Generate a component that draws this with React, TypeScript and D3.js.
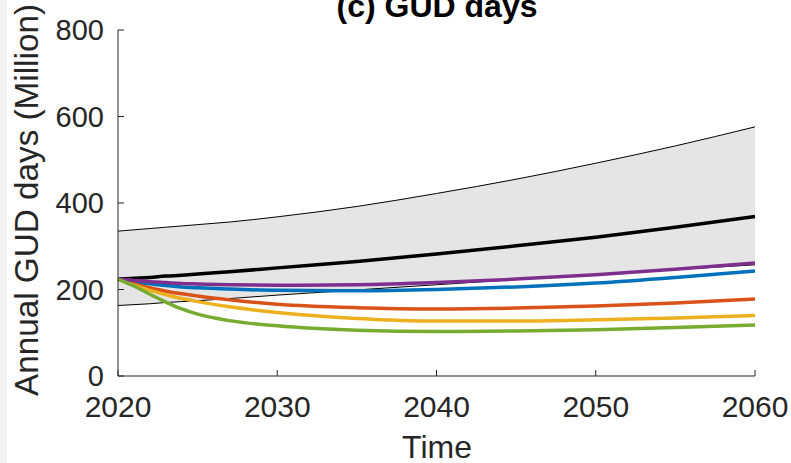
import React from "react";
import * as d3 from "d3";

const years = [2020, 2021, 2022, 2023, 2024, 2025, 2027, 2030, 2035, 2040, 2045, 2050, 2055, 2060];
const upperBand = [335, 338, 341, 344, 347, 350, 356, 368, 392, 422, 455, 492, 532, 576];
const lowerBand = [163, 165, 167, 170, 172, 174, 179, 187, 199, 211, 223, 235, 246, 257];
const medianSeries = [224, 226, 228, 231, 233, 236, 241, 250, 265, 282, 301, 321, 344, 369];
const blueSeries = [224, 218, 213, 209, 206, 204, 201, 198, 197, 200, 206, 215, 228, 243];
const orangeSeries = [224, 213, 204, 196, 190, 185, 176, 166, 158, 155, 157, 162, 169, 178];
const yellowSeries = [224, 210, 198, 188, 179, 172, 160, 147, 133, 127, 127, 130, 134, 140];
const purpleSeries = [224, 221, 218, 216, 214, 213, 211, 210, 211, 216, 224, 234, 247, 261];
const greenSeries = [224, 208, 189, 171, 155, 143, 128, 116, 106, 103, 104, 107, 112, 118];

const xTicks = [2020, 2030, 2040, 2050, 2060];
const yTicks = [0, 200, 400, 600, 800];

const title = "(c) GUD days";
const xLabel = "Time";
const yLabel = "Annual GUD days (Million)";

const coloured = [
  { values: blueSeries, color: "#0072BD" },
  { values: orangeSeries, color: "#D95319" },
  { values: yellowSeries, color: "#EDB120" },
  { values: purpleSeries, color: "#7E2F8E" },
  { values: greenSeries, color: "#77AC30" },
];

const FONT = "'Liberation Sans', Arial, Helvetica, sans-serif";
const AX = "#262626";

export default function App() {
  const W = 791, H = 463;
  const x = d3.scaleLinear().domain([2020, 2060]).range([118, 755]);
  const y = d3.scaleLinear().domain([0, 800]).range([376, 30]);

  const line = d3
    .line<number>()
    .x((_, i) => x(years[i]))
    .y((v) => y(v))
    .curve(d3.curveMonotoneX);

  const area = d3
    .area<number>()
    .x((_, i) => x(years[i]))
    .y0((_, i) => y(lowerBand[i]))
    .y1((v) => y(v))
    .curve(d3.curveMonotoneX);

  return (
    <svg
      width={W}
      height={H}
      style={{ position: "absolute", left: 0, top: 0, background: "#fff" }}
      fontFamily={FONT}
    >
      <rect x={0} y={0} width={7} height={H} fill="#f3f3f3" />
      <path d={area(upperBand) || ""} fill="#e5e5e5" stroke="none" />
      <path d={line(upperBand) || ""} fill="none" stroke="#000" strokeWidth={1} />
      <path d={line(lowerBand) || ""} fill="none" stroke="#000" strokeWidth={1} />
      <path d={line(medianSeries) || ""} fill="none" stroke="#000" strokeWidth={3.5} />
      {coloured.map((s, k) => (
        <path key={k} d={line(s.values) || ""} fill="none" stroke={s.color} strokeWidth={3.5} />
      ))}

      {/* axes */}
      <line x1={x(2020)} x2={x(2020)} y1={y(800)} y2={y(0)} stroke={AX} strokeWidth={1} />
      <line x1={x(2020)} x2={x(2060)} y1={y(0)} y2={y(0)} stroke={AX} strokeWidth={1} />
      {yTicks.map((t) => (
        <g key={"y" + t}>
          <line x1={x(2020)} x2={x(2020) + 6} y1={y(t)} y2={y(t)} stroke={AX} strokeWidth={1} />
          <text x={104} y={y(t) + 10} textAnchor="end" fontSize={29} fill={AX}>
            {t}
          </text>
        </g>
      ))}
      {xTicks.map((t) => (
        <g key={"x" + t}>
          <line x1={x(t)} x2={x(t)} y1={y(0)} y2={y(0) - 6} stroke={AX} strokeWidth={1} />
          <text x={x(t)} y={417} textAnchor="middle" fontSize={30} fill={AX}>
            {t}
          </text>
        </g>
      ))}

      <text x={437} y={17} textAnchor="middle" fontSize={32} fontWeight="bold" fill="#000">
        {title}
      </text>
      <text x={437} y={458} textAnchor="middle" fontSize={32} fill={AX}>
        {xLabel}
      </text>
      <text
        transform="translate(38,200) rotate(-90)"
        textAnchor="middle"
        fontSize={33}
        fill={AX}
        textLength={392}
        lengthAdjust="spacingAndGlyphs"
      >
        {yLabel}
      </text>
    </svg>
  );
}
